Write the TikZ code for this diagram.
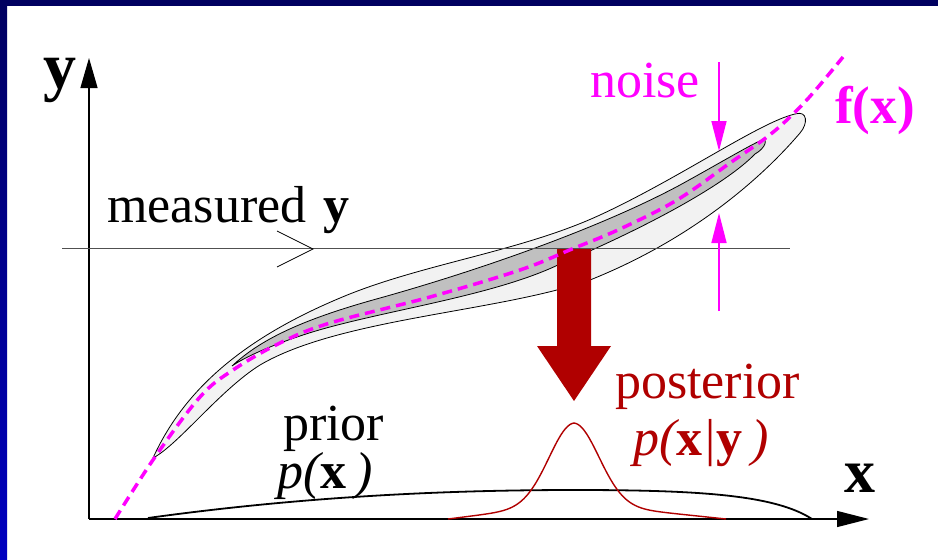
\documentclass[tikz,border=0pt]{standalone}
\usepackage{fontspec}
\setmainfont{Liberation Serif}
\usetikzlibrary{arrows.meta}
\definecolor{navy}{RGB}{0,0,96}
\definecolor{navylight}{RGB}{0,0,192}
\definecolor{mag}{RGB}{255,0,255}
\definecolor{dred}{RGB}{176,0,0}
\definecolor{lgray}{RGB}{242,242,242}
\definecolor{mgray}{RGB}{192,192,192}
\definecolor{lineg}{RGB}{80,80,80}
\tikzset{
  txt/.style={inner sep=0pt, anchor=base west, font=\fontsize{52}{60}\selectfont},
  axis/.style={line width=1.3pt, -{Triangle[length=30pt,width=17pt]}},
  noisearrow/.style={mag, line width=1.5pt, -{Triangle[length=30pt,width=15pt]}},
  band/.style={draw=black, line width=0.8pt},
}
\begin{document}
\begin{tikzpicture}[x=1pt,y=-1pt]
\path[use as bounding box, fill=white] (0,0) rectangle (938,560);
% border
\fill[navy] (0,0) rectangle (938,6);
\shade[top color=navy, bottom color=navylight] (0,0) rectangle (7,560);

% axes
\coordinate (O) at (89,519);
\coordinate (Ytip) at (89,58);
\coordinate (Xtip) at (869,519);
\draw[axis] (O) -- (Ytip);
\draw[axis,-{Triangle[length=32pt,width=16pt]}] (O) -- (Xtip);

% outer band
\filldraw[band, fill=lgray] (153,458)
  .. controls (183,392) and (240,340) .. (340,298)
  .. controls (420,264) and (520,252) .. (600,215)
  .. controls (680,178) and (760,122) .. (795,114)
  .. controls (808,110) and (808,124) .. (800,133)
  .. controls (760,180) and (690,240) .. (590,280)
  .. controls (500,312) and (340,318) .. (260,365)
  .. controls (220,390) and (178,445) .. (153,458) -- cycle;
% inner band
\filldraw[band, fill=mgray] (232,366)
  .. controls (260,340) and (300,320) .. (380,298)
  .. controls (480,270) and (600,228) .. (680,185)
  .. controls (720,163) and (750,145) .. (762,140)
  .. controls (768,138) and (766,148) .. (755,154)
  .. controls (725,185) and (645,228) .. (560,264)
  .. controls (490,298) and (370,312) .. (300,336)
  .. controls (270,346) and (245,357) .. (232,366) -- cycle;

% red arrow
\fill[dred] (557,248) -- (591,248) -- (591,346) -- (611,346) -- (574,401)
  -- (537,346) -- (557,346) -- cycle;

% measured y line
\coordinate (ML) at (62,248);
\coordinate (MR) at (790,248);
\draw[lineg, line width=1pt] (ML) -- (MR);
\draw[black, line width=0.8pt] (277,231) -- (313,249) -- (277,267);

% f(x) dashed
\draw[mag, line width=3.5pt, dash pattern=on 10pt off 6pt] plot[smooth, tension=0.6] coordinates {
 (115,519) (155,457) (200,397) (233,370) (280,343) (330,323) (430,297) (520,270)
 (572,249) (620,229) (677,200) (730,163) (767,137) (790,117) (813,93) (843,57)};

% noise arrows
\coordinate (N1a) at (719,62);
\coordinate (N1b) at (719,151);
\coordinate (N2a) at (719,311);
\coordinate (N2b) at (719,213);
\draw[noisearrow] (N1a) -- (N1b);
\draw[noisearrow] (N2a) -- (N2b);

% prior curve
\draw[black, line width=1.8pt] (148,518) .. controls (300,497) and (440,490) .. (575,490)
  .. controls (700,490) and (775,495) .. (812,519);

% posterior curve
\draw[dred, line width=1.4pt] plot[domain=-126:0, samples=61]
  ({574+\x},{519-(80*exp(-0.5*(\x/25)*(\x/25))+16*(1+\x/126))})
  -- plot[domain=0:152, samples=71]
  ({574+\x},{519-(80*exp(-0.5*(\x/25)*(\x/25))+16*(1-\x/152))});

% labels
\node[txt, font=\fontsize{66}{76}\selectfont\bfseries] (ylab) at (43,88) {y};
\node[txt, font=\fontsize{62}{72}\selectfont\bfseries] (xlab) at (844,492) {x};
\node[txt, mag, font=\fontsize{53}{60}\selectfont\bfseries] (flab) at (835,123) {f(x)};
\node[txt, mag] (noise) at (590,97) {noise};
\node[txt] (meas) at (107,222) {measured\hspace{17pt}\textbf{y}};
\node[txt, text depth=2pt] (prior) at (283,440) {prior};
\node[txt] (px) at (277,488) {\itshape p(\textbf{\upshape x}\,)};
\node[txt, dred] (post) at (615,398) {posterior};
\node[txt, dred] (pxy) at (633,455) {\itshape p(\textbf{\upshape x}|\textbf{\upshape y}\,)};
\end{tikzpicture}
\end{document}
